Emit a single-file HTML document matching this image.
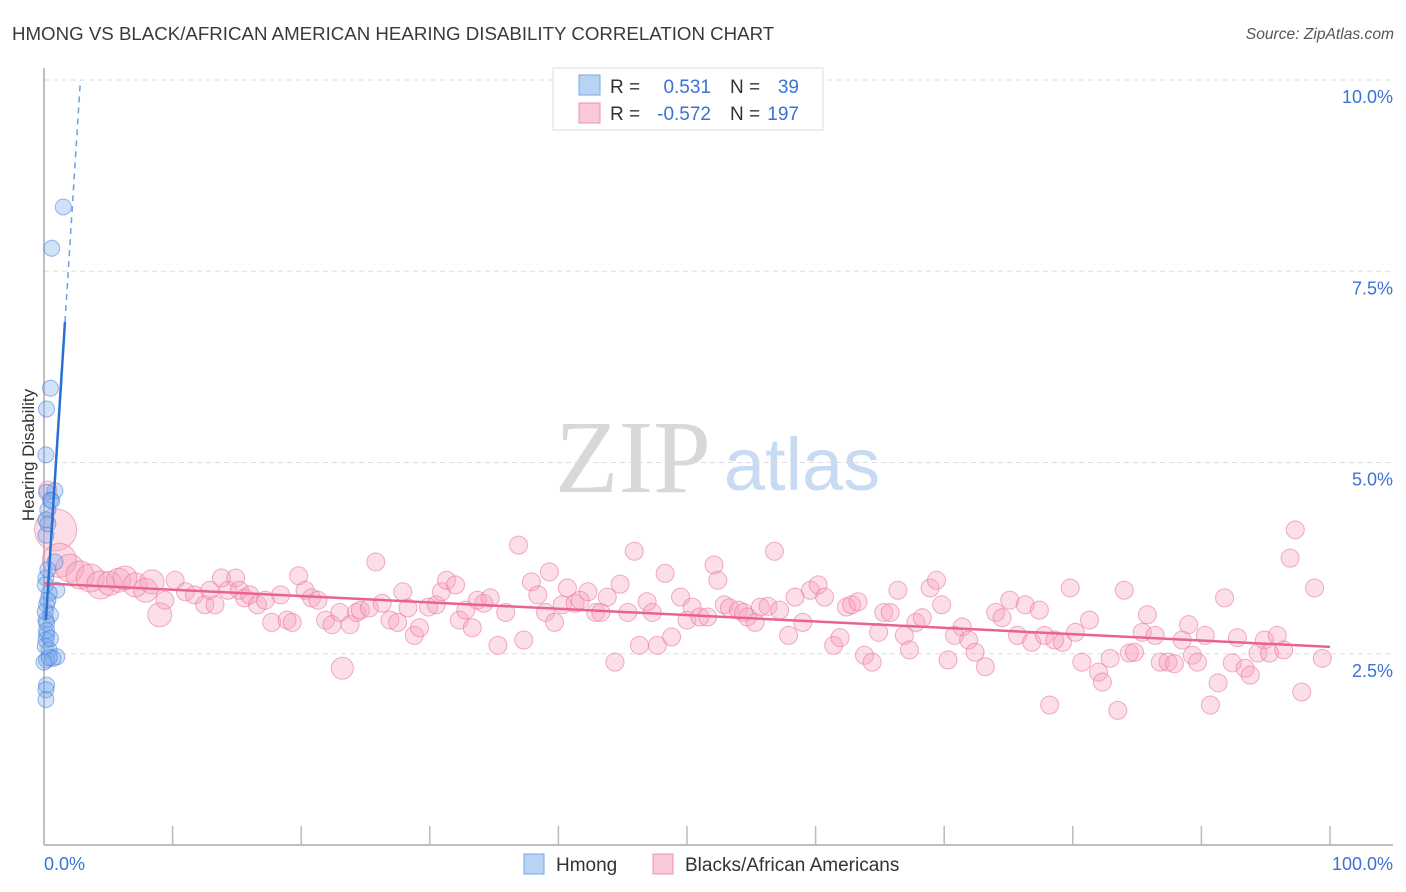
<!DOCTYPE html>
<html><head><meta charset="utf-8">
<style>
body{margin:0;background:#fff;width:1406px;height:892px;overflow:hidden;font-family:"Liberation Sans",sans-serif}
svg{display:block}
</style></head>
<body>
<svg id="chart" width="1406" height="892" xmlns="http://www.w3.org/2000/svg">
<text x="12" y="40" font-size="18.7" fill="#3a3a3a">HMONG VS BLACK/AFRICAN AMERICAN HEARING DISABILITY CORRELATION CHART</text>
<text x="1394" y="39" font-size="15.6" fill="#555" font-style="italic" text-anchor="end">Source: ZipAtlas.com</text>
<g>
<text x="633" y="492" font-size="104" font-family="Liberation Serif,serif" fill="#d8d8d8" text-anchor="middle">ZIP</text>
<text x="802" y="490" font-size="74" fill="#c9dbf2" text-anchor="middle">atlas</text>
</g>
<g id="grid"></g>
<g id="axes"></g>
<g id="pink"></g>
<g id="blue"></g>
<g id="lines"></g>
<text x="34" y="455" font-size="17" fill="#333" text-anchor="middle" transform="rotate(-90 34 455)">Hearing Disability</text>
<g>
<rect x="553" y="68" width="270" height="62" fill="#fff" stroke="#ddd"/>
<rect x="579" y="75" width="21" height="20" fill="#b9d3f5" stroke="#7aa6e6"/>
<rect x="579" y="103" width="21" height="20" fill="#f9c9d7" stroke="#ee93b0"/>
<text x="610" y="93" font-size="19" fill="#333">R =</text>
<text x="711" y="93" font-size="19" fill="#3b72d4" text-anchor="end">0.531</text>
<text x="730" y="93" font-size="19" fill="#333">N =</text>
<text x="799" y="93" font-size="19" fill="#3b72d4" text-anchor="end">39</text>
<text x="610" y="120" font-size="19" fill="#333">R =</text>
<text x="711" y="120" font-size="19" fill="#3b72d4" text-anchor="end">-0.572</text>
<text x="730" y="120" font-size="19" fill="#333">N =</text>
<text x="799" y="120" font-size="19" fill="#3b72d4" text-anchor="end">197</text>
</g>
<g>
<rect x="524" y="854" width="20" height="20" fill="#b9d3f5" stroke="#7aa6e6"/>
<text x="556" y="871" font-size="19" fill="#333">Hmong</text>
<rect x="653" y="854" width="20" height="20" fill="#f9c9d7" stroke="#ee93b0"/>
<text x="685" y="871" font-size="19" fill="#333">Blacks/African Americans</text>
</g>
</svg>
<script>
const yTicks=[2.5,5.0,7.5,10.0];
const yTickLabels=["2.5%","5.0%","7.5%","10.0%"];
const xTicks=[0,10,20,30,40,50,60,70,80,90,100];
const xTickLabels=["0.0%","100.0%"];
const blueX=[1.5,0.6,0.5,0.2,0.15,0.85,0.2,0.5,0.3,0.15,0.15,0.85,0.15,1.0,0.4,0.2,0.5,0.15,0.2,0.15,0.4,1.0,0.2,0.7,0,0.2,0.15,0.15,0.1,0.3,0.2,0.1,0.4,0.6,0.3,0.1,0.2,0.5,0.3];
const blueY=[8.34,7.80,5.97,5.70,5.10,4.63,4.61,4.51,4.38,4.25,4.05,3.70,3.49,3.33,3.29,3.14,3.01,2.94,2.75,2.68,2.55,2.46,2.42,2.44,2.39,2.09,2.03,1.90,3.40,3.20,2.90,2.60,2.45,4.50,3.60,3.05,2.80,2.70,4.20];
const pinkX=[0.3,0.9,1.2,2.0,2.8,3.6,4.4,5.1,5.8,6.3,7.1,7.9,8.4,9.0,9.4,10.2,11.0,11.7,12.5,12.9,13.3,13.8,14.3,14.9,15.2,15.6,16.0,16.6,17.2,17.7,18.4,18.9,19.3,19.8,20.3,20.8,21.3,21.9,22.4,23.0,23.8,24.3,24.6,25.3,25.8,26.3,26.9,27.5,27.9,28.3,28.8,29.2,29.9,30.5,30.9,31.3,32.0,32.3,32.8,33.3,33.7,34.2,34.7,35.3,35.9,36.9,37.3,37.9,38.4,39.0,39.3,39.7,40.3,40.7,41.3,41.7,42.3,42.9,43.3,43.8,44.4,44.8,45.4,45.9,46.3,46.9,47.3,47.7,48.3,48.8,49.5,50.0,50.4,51.0,51.6,52.1,52.4,52.9,53.3,54.0,54.4,54.7,55.3,55.7,56.3,56.8,57.2,57.9,58.4,59.0,59.6,60.2,60.7,61.4,61.9,62.4,62.8,63.3,63.8,64.4,64.9,65.3,65.8,66.4,66.9,67.3,67.8,68.3,68.9,69.4,69.8,70.3,70.8,71.4,71.9,72.4,73.2,74.0,74.5,75.1,75.7,76.3,76.8,77.4,77.8,78.2,78.6,79.2,79.8,80.2,80.7,81.3,82.0,82.3,82.9,83.5,84.0,84.4,84.8,85.4,85.8,86.4,86.8,87.4,87.9,88.5,89.0,89.3,89.7,90.3,90.7,91.3,91.8,92.4,92.8,93.4,93.8,94.4,94.9,95.3,95.9,96.4,96.9,97.3,97.8,98.8,99.4,23.2];
const pinkY=[4.64,4.12,3.72,3.62,3.53,3.49,3.40,3.42,3.46,3.49,3.40,3.33,3.44,3.01,3.20,3.46,3.31,3.27,3.14,3.33,3.14,3.49,3.33,3.49,3.33,3.23,3.27,3.14,3.20,2.91,3.27,2.94,2.91,3.52,3.33,3.23,3.20,2.94,2.88,3.04,2.88,3.04,3.07,3.10,3.70,3.16,2.94,2.91,3.31,3.10,2.74,2.84,3.11,3.14,3.31,3.46,3.40,2.94,3.07,2.84,3.20,3.16,3.23,2.61,3.04,3.92,2.68,3.44,3.27,3.04,3.57,2.91,3.14,3.36,3.16,3.20,3.31,3.04,3.04,3.24,2.39,3.41,3.04,3.84,2.61,3.18,3.04,2.61,3.55,2.72,3.24,2.94,3.11,2.98,2.98,3.66,3.46,3.14,3.10,3.07,3.04,2.98,2.91,3.11,3.12,3.84,3.07,2.74,3.24,2.91,3.33,3.40,3.24,2.61,2.71,3.11,3.14,3.18,2.48,2.39,2.78,3.04,3.04,3.33,2.74,2.55,2.91,2.97,3.36,3.46,3.14,2.42,2.74,2.85,2.68,2.52,2.33,3.04,2.97,3.20,2.74,3.14,2.65,3.07,2.74,1.83,2.68,2.65,3.36,2.78,2.39,2.94,2.26,2.13,2.44,1.76,3.33,2.51,2.52,2.78,3.01,2.74,2.39,2.39,2.37,2.68,2.88,2.48,2.39,2.74,1.83,2.12,3.23,2.38,2.71,2.31,2.22,2.51,2.68,2.51,2.74,2.55,3.75,4.12,2.00,3.36,2.44,2.31];
const pinkTrend=[3.42,2.59];
const blueTrend=[2.55,2.63];
const X0=44,X1=1330,Y0=845,YPX=76.5;
const sx=v=>X0+v*(X1-X0)/100, sy=v=>Y0-v*YPX;
const NS="http://www.w3.org/2000/svg";
function mk(tag,attrs,parent){const e=document.createElementNS(NS,tag);for(const k in attrs)e.setAttribute(k,attrs[k]);document.getElementById(parent).appendChild(e);return e;}
yTicks.forEach((t,i)=>{
 const l=mk('line',{x1:X0,x2:1393,y1:sy(t),y2:sy(t),stroke:'#ddd','stroke-dasharray':'5,4'},'grid');
 
 
 const tx=mk('text',{x:1393,y:sy(t)+23,'font-size':18,fill:'#3b72d4','text-anchor':'end'},'grid');
 tx.textContent=yTickLabels[i];
 
 
});
let ax=mk('line',{x1:X0,x2:X0,y1:68,y2:Y0,stroke:'#aaa','stroke-width':1.5},'axes');


ax=mk('line',{x1:X0,x2:1393,y1:Y0,y2:Y0,stroke:'#aaa','stroke-width':1.5},'axes');


xTicks.forEach(t=>{const l=mk('line',{x1:sx(t),x2:sx(t),y1:826,y2:Y0,stroke:'#bbb','stroke-width':1.5},'axes');
 
 });
let xl=mk('text',{x:X0,y:870,'font-size':18,fill:'#3b72d4'},'axes');xl.textContent=xTickLabels[0];


xl=mk('text',{x:1393,y:870,'font-size':18,fill:'#3b72d4','text-anchor':'end'},'axes');xl.textContent=xTickLabels[1];


pinkX.forEach((v,i)=>{
 let r=9; if(i===1)r=21; else if(i===2)r=17; else if(i>=3&&i<=6)r=14; else if(i<=12&&i>6)r=12; else if(i===13)r=12; else if(i===pinkX.length-1)r=11;
 const c=mk('circle',{cx:sx(v),cy:sy(pinkY[i]),r:r,fill:'rgba(245,160,186,0.35)',stroke:'rgba(233,120,156,0.6)','stroke-width':1},'pink');
 
 
});
blueX.forEach((v,i)=>{
 const c=mk('circle',{cx:sx(v),cy:sy(blueY[i]),r:8,fill:'rgba(120,170,235,0.35)',stroke:'rgba(60,120,215,0.5)','stroke-width':1},'blue');
 
 
});
let tl=mk('line',{x1:sx(0),y1:sy(pinkTrend[0]),x2:sx(100),y2:sy(pinkTrend[1]),stroke:'#e8648f','stroke-width':2.5},'lines');


const by=x=>blueTrend[0]+blueTrend[1]*x;
tl=mk('line',{x1:sx(0.15),y1:sy(by(0.15)),x2:sx(1.63),y2:sy(by(1.63)),stroke:'#2a6fd6','stroke-width':2.5},'lines');


const xe=(10-blueTrend[0])/blueTrend[1];
tl=mk('line',{x1:sx(1.63),y1:sy(by(1.63)),x2:sx(xe),y2:sy(10),stroke:'#6f9fe0','stroke-width':1.5,'stroke-dasharray':'6,5'},'lines');


</script>
</body></html>
